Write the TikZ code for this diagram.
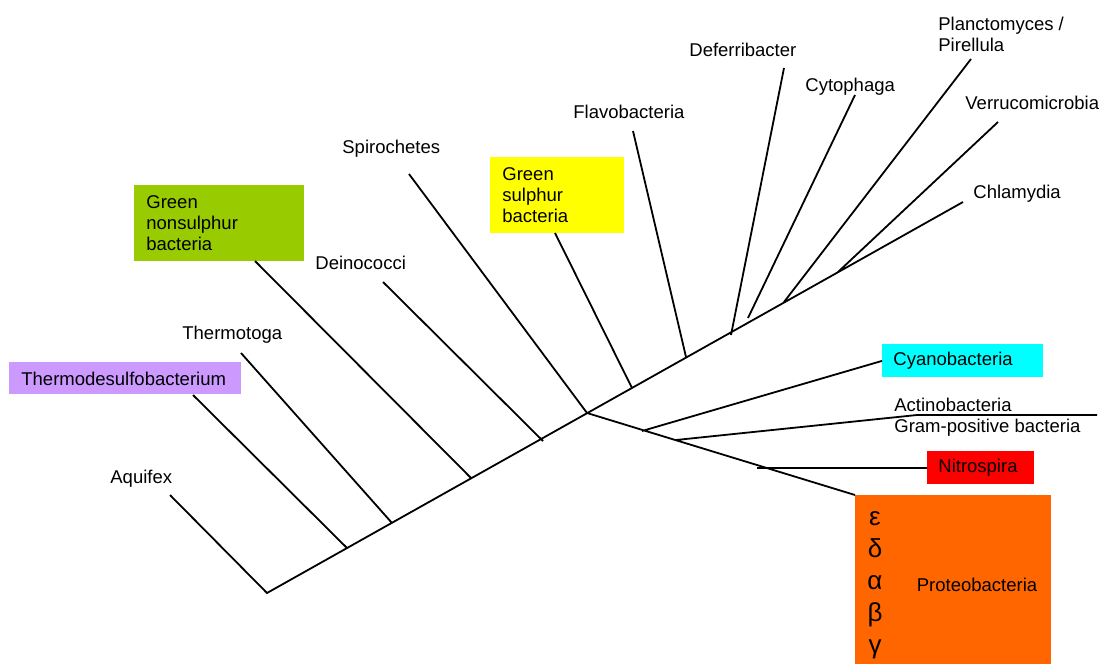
\documentclass[tikz,border=0pt]{standalone}
\usepackage{fontspec}
\setmainfont{Liberation Sans}
\usetikzlibrary{calc}
\definecolor{tdspurple}{RGB}{204,153,255}
\definecolor{gnsgreen}{RGB}{153,204,0}
\definecolor{gsyellow}{RGB}{255,255,0}
\definecolor{cyanobox}{RGB}{0,255,255}
\definecolor{nitrored}{RGB}{255,0,0}
\definecolor{proteoorange}{RGB}{255,102,0}
\tikzset{
x=0.5pt, y=-0.5pt, % one unit is one pixel of the sketch
branch/.style={line width=0.9pt}, % the edges of the tree
taxon/.style={inner sep=0pt, align=left, font=\fontsize{9.25}{10.5}\selectfont}, % plain labels
group/.style={taxon, anchor=north west, inner xsep=6pt, inner ysep=0pt}, % coloured boxes, text on the left
}

\begin{document}
\begin{tikzpicture}
      \useasboundingbox (0,0) rectangle (1109,664);

      % labels
      \node[taxon, anchor=base west] (aquifex) at (110,483) {Aquifex};
      \node[group, fill=tdspurple, text width=104pt, minimum height=16pt] (tds) at (9,362) {Thermodesulfobacterium};
      \node[taxon, anchor=base west] (thermotoga) at (182,339) {Thermotoga};
      \node[group, fill=gnsgreen, text width=73pt, minimum height=38pt] (gns) at (134,185) {Green\\nonsulphur\\bacteria};
      \node[taxon, anchor=base west] (deino) at (315,269) {Deinococci};
      \node[taxon, anchor=base west] (spiro) at (342,153) {Spirochetes};
      \node[group, fill=gsyellow, text width=55pt, minimum height=38pt] (gs) at (490,157) {Green\\sulphur\\bacteria};
      \node[taxon, anchor=base west] (flavo) at (573,118) {Flavobacteria};
      \node[taxon, anchor=base west] (deferri) at (689,56) {Deferribacter};
      \node[taxon, anchor=base west] (cyto) at (805,91) {Cytophaga};
      \node[taxon, anchor=west] (plancto) at (938,34) {Planctomyces /\\Pirellula};
      \node[taxon, anchor=base west] (verruco) at (965,109) {Verrucomicrobia};
      \node[taxon, anchor=base west] (chlamy) at (973,198) {Chlamydia};
      \node[group, fill=cyanobox, inner xsep=5.5pt, text width=69.5pt, minimum height=16.5pt] (cyano) at (882,344) {Cyanobacteria};
      \node[taxon, anchor=west] (gram) at (894,417) {Actinobacteria\\Gram-positive bacteria};
      \node[group, fill=nitrored, inner xsep=5.5pt, text width=42.5pt, minimum height=16.5pt] (nitro) at (927,451) {Nitrospira};
      \node[group, fill=proteoorange, minimum width=98pt, minimum height=84.5pt] (proteo) at (855,495) {};
      \node[inner sep=0pt, align=center, font=\fontsize{13}{16}\selectfont] (greek) at (875,585) {ε\\δ\\α\\β\\γ};
      \node[taxon] (proteolabel) at (977,585) {Proteobacteria};

      % tips of the branches
      \coordinate (aqtip) at (170,495);
      \coordinate (tdstip) at (193,395);
      \coordinate (tttip) at (241,353);
      \coordinate (gnstip) at (255,261);
      \coordinate (detip) at (383,282);
      \coordinate (sptip) at (409,174);
      \coordinate (gstip) at (555,233);
      \coordinate (fltip) at (633,131);
      \coordinate (dftip) at (784,68);
      \coordinate (cytip) at (855,95);
      \coordinate (pltip) at (971,59);
      \coordinate (vetip) at (998,122);
      \coordinate (chtip) at (963,202);
      \coordinate (gramtip) at (1097,415);

      % points on the stem
      \coordinate (root) at (267,593);
      \coordinate (a1) at (347,548);
      \coordinate (a2) at (392,523);
      \coordinate (a3) at (471,478);
      \coordinate (a4) at (543,441);
      \coordinate (junc) at (587,413);
      \coordinate (a5) at (632,388);
      \coordinate (a6) at (686,357);
      \coordinate (a7) at (731,335);
      \coordinate (a8) at (748,318);
      \coordinate (a9) at (784,302);
      \coordinate (a10) at (838,272);
      \coordinate (b1) at (642,431);
      \coordinate (b2) at (676,440);
      \coordinate (b3) at (917,415);
      \coordinate (b4) at (757,468);

      \draw[branch] (aqtip) -- (root) -- (chtip)
      (tdstip) -- (a1)
      (tttip) -- (a2)
      (gnstip) -- (a3)
      (detip) -- (a4)
      (sptip) -- (junc)
      (gstip) -- (a5)
      (fltip) -- (a6)
      (dftip) -- (a7)
      (cytip) -- (a8)
      (pltip) -- (a9)
      (vetip) -- (a10)
      (junc) -- (proteo.north west)
      (b1) -- (cyano.west)
      (b2) -- (b3) -- (gramtip)
      (b4) -- (nitro.west |- b4);
    \end{tikzpicture}
\end{document}
